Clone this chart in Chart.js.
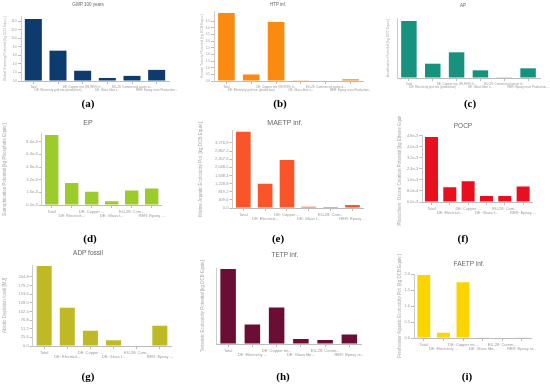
<!DOCTYPE html>
<html>
<head>
<meta charset="utf-8">
<script src="https://cdn.jsdelivr.net/npm/chart.js@4/dist/chart.umd.min.js"></script>
<style>
body { margin: 0; background: #fff; width: 550px; height: 387px; position: relative; overflow: hidden; font-family: "Liberation Sans", Arial, sans-serif; }
.pane { position: absolute; }
.ttl { position: absolute; color: #666; transform: translateX(-50%); white-space: nowrap; z-index: 2; }
.lbl { position: absolute; font-family: "Liberation Serif", "Times New Roman", serif; font-weight: bold; font-size: 11px; line-height: 11px; transform: translateX(-50%); }
</style>
</head>
<body>
<script>
// --- Categorías (etiquetas del eje x) ---
const catsTop = ['Total', 'DE: Electricity grid mix (production)', 'DE: Copper mix (99,999% fr...', 'DE: Glass fibre s...', 'EU-28: Commercial waste d...', 'RER: Epoxy resin Production...'];
const catsShort = ['Total', 'DE: Electricit...', 'DE: Copper ...', 'DE: Glass f...', 'EU-28: Com...', 'RER: Epoxy ...'];
const catsMid = ['Total', 'DE: Electricity ...', 'DE: Copper mi...', 'DE: Glass fibr...', 'EU-28: Comm...', 'RER: Epoxy re...'];

// --- Valores por categoría de impacto ---
const gwp = [14.5, 7.1, 2.4, 0.7, 1.2, 2.6];
const htp = [5.1, 0.48, 4.42, 0.05, 0.0, 0.13];
const ap = [0.057, 0.0143, 0.0257, 0.0077, 0.0007, 0.0097];
const ep = [8.85e-3, 2.79e-3, 1.69e-3, 0.47e-3, 1.82e-3, 2.07e-3];
const maetp = [3845, 1220, 2424, 67, 5, 150];
const pocp = [4.71e-3, 1.07e-3, 1.51e-3, 0.44e-3, 0.44e-3, 1.12e-3];
const adpFossil = [237, 113.7, 45.5, 16.8, 0, 60.3];
const tetp = [0.0375, 0.0098, 0.0182, 0.0025, 0.002, 0.0047];
const faetp = [1.97, 0.165, 1.74, 0.02, 0, 0.02];

// --- Formato de los ticks ---
const fix1 = v => v.toFixed(1);
const expE3 = v => (v * 1000).toFixed(1) + 'e-3';
const expPocp = v => (v > 0 && v < 1e-3) ? (v * 1e4).toFixed(1) + 'e-4' : (v * 1e3).toFixed(1) + 'e-3';
const miles = v => v.toLocaleString('en-US', { minimumFractionDigits: 1, maximumFractionDigits: 1 });

// columnas y filas del mosaico
const cols = [[0, 185], [185, 370], [370, 550]];
const rows = [[0, 100], [116, 232], [248, 372]];

const paneles = [
  { id: 'a', col: 0, row: 0, cats: catsTop, vals: gwp, color: '#0e3b6e', title: 'GWP 100 years', tx: 88, ty: 5.3, tfs: 4.5,
    yTitle: 'Global Warming Potential [kg CO2 Equiv.]', ytx: 5, l: 21, r: 169, t: 16.9, b: 81, max: 15, step: 2, fmt: fix1, fs: 3, yfs: 3.5, bp: 0.69, lx: 88, ly: 98 },
  { id: 'b', col: 1, row: 0, cats: catsTop, vals: htp, color: '#fb8a10', title: 'HTP inf.', tx: 278, ty: 5.7, tfs: 4.5,
    yTitle: 'Human Toxicity Potential [kg DCB Equiv.]', ytx: 202, l: 214, r: 363, t: 11.7, b: 81, max: 5.2, step: 0.5, fmt: fix1, fs: 3, yfs: 3.5, bp: 0.67, lx: 280, ly: 98 },
  { id: 'c', col: 2, row: 0, cats: catsTop, vals: ap, color: '#17927e', title: 'AP', tx: 463, ty: 6.7, tfs: 4.5,
    yTitle: 'Acidification Potential [kg SO2 Equiv.]', ytx: 388, l: 397, r: 540, t: 18, b: 78, max: 0.06, step: null, fmt: null, fs: 3, yfs: 3.5, bp: 0.65, lx: 470, ly: 98 },
  { id: 'd', col: 0, row: 1, cats: catsShort, vals: ep, color: '#9ccc2c', title: 'EP', tx: 88, ty: 122.7, tfs: 7,
    yTitle: 'Eutrophication Potential [kg Phosphate Equiv.]', ytx: 5, l: 41.7, r: 161.7, t: 133.8, b: 205, max: 9e-3, step: 1.6e-3, fmt: expE3, fs: 4, yfs: 4.5, bp: 0.67, lx: 90, ly: 233 },
  { id: 'e', col: 1, row: 1, cats: catsShort, vals: maetp, color: '#fa5528', title: 'MAETP inf.', tx: 285, ty: 122.7, tfs: 7,
    yTitle: 'Marine Aquatic Ecotoxicity Pot. [kg DCB Equiv.]', ytx: 201, l: 232.4, r: 363.4, t: 130.6, b: 208, max: 3900, step: 409.6, fmt: miles, fs: 4, yfs: 4.5, bp: 0.67, lx: 278, ly: 233 },
  { id: 'f', col: 2, row: 1, cats: catsShort, vals: pocp, color: '#e8101e', title: 'POCP', tx: 463, ty: 126.7, tfs: 6.5,
    yTitle: 'Photochem. Ozone Creation Potential [kg Ethene Equiv.]', ytx: 400, l: 422.3, r: 532.3, t: 135.8, b: 202, max: 4.8e-3, step: 0.8e-3, fmt: expPocp, fs: 4, yfs: 4.5, bp: 0.71, lx: 463, ly: 233 },
  { id: 'g', col: 0, row: 2, cats: catsShort, vals: adpFossil, color: '#c0b926', title: 'ADP fossil', tx: 88, ty: 253.3, tfs: 6.5,
    yTitle: 'Abiotic Depletion fossil [MJ]', ytx: 5, l: 32.6, r: 171.4, t: 265, b: 346, max: 240, step: 25.6, fmt: fix1, fs: 4, yfs: 4.5, bp: 0.65, lx: 88, ly: 371 },
  { id: 'h', col: 1, row: 2, cats: catsMid, vals: tetp, color: '#6a0e35', title: 'TETP inf.', tx: 285, ty: 255, tfs: 6.5,
    yTitle: 'Terrestric Ecotoxicity Potential [kg DCB Equiv.]', ytx: 203, l: 216, r: 361.5, t: 268, b: 344, max: 0.038, step: null, fmt: null, fs: 4, yfs: 4.5, bp: 0.64, lx: 283, ly: 371 },
  { id: 'i', col: 2, row: 2, cats: catsMid, vals: faetp, color: '#fbd500', title: 'FAETP inf.', tx: 469, ty: 264, tfs: 6.5,
    yTitle: 'Freshwater Aquatic Ecotoxicity Pot. [kg DCB Equiv.]', ytx: 400, l: 414, r: 531.6, t: 274, b: 338, max: 2.0, step: 0.5, fmt: fix1, fs: 4, yfs: 4.5, bp: 0.66, lx: 467, ly: 371 }
];

function crearPanel(p) {
  const [x0, x1] = cols[p.col];
  const [y0, y1] = rows[p.row];
  const W = p.l - x0, H = y1 - p.b;

  const div = document.createElement('div');
  div.className = 'pane';
  div.style.left = x0 + 'px';
  div.style.top = y0 + 'px';
  const cv = document.createElement('canvas');
  cv.width = x1 - x0;
  cv.height = y1 - y0;
  cv.style.width = (x1 - x0) + 'px';
  cv.style.height = (y1 - y0) + 'px';
  div.appendChild(cv);
  document.body.appendChild(div);

  // título del panel
  const t = document.createElement('div');
  t.className = 'ttl';
  t.textContent = p.title;
  t.style.left = p.tx + 'px';
  t.style.top = (p.ty - p.tfs / 2) + 'px';
  t.style.fontSize = p.tfs + 'px';
  t.style.lineHeight = p.tfs + 'px';
  document.body.appendChild(t);

  // etiqueta (a), (b)...
  const l = document.createElement('div');
  l.className = 'lbl';
  l.textContent = '(' + p.id + ')';
  l.style.left = p.lx + 'px';
  l.style.top = p.ly + 'px';
  document.body.appendChild(l);

  const conTicks = p.step !== null;
  const lineH = p.yfs * 1.2;

  new Chart(cv.getContext('2d'), {
    type: 'bar',
    data: {
      labels: p.cats.map((c, i) => i % 2 ? ['', c] : [c]),
      datasets: [{ data: p.vals, backgroundColor: p.color, barPercentage: p.bp, categoryPercentage: 1 }]
    },
    options: {
      responsive: false,
      animation: false,
      layout: { padding: { top: p.t - y0, right: x1 - p.r, left: 0, bottom: 0 } },
      plugins: { legend: { display: false }, tooltip: { enabled: false } },
      scales: {
        x: {
          grid: { offset: false, drawOnChartArea: false, tickLength: 3, color: '#bbb' },
          border: { color: '#bbb' },
          ticks: { font: { size: p.fs, family: 'Liberation Sans' }, color: '#999', maxRotation: 0, minRotation: 0, autoSkip: false, padding: 1 },
          afterFit(s) { s.height = H; s.paddingLeft = 0; s.paddingRight = 0; }
        },
        y: {
          min: 0, max: p.max,
          grid: { drawOnChartArea: false, drawTicks: conTicks, tickLength: 3, color: '#bbb' },
          border: { color: '#ccc' },
          ticks: conTicks
            ? { stepSize: p.step, callback: p.fmt, font: { size: p.fs, family: 'Liberation Sans' }, color: '#999', padding: 1 }
            : { display: false },
          title: { display: true, text: p.yTitle, color: '#aaa', font: { size: p.yfs, family: 'Liberation Sans' }, padding: { top: p.ytx - x0 - lineH / 2, bottom: 0 } },
          afterBuildTicks(s) {
            if (!conTicks) return;
            s.ticks = s.ticks.filter(tk => Math.abs(tk.value / p.step - Math.round(tk.value / p.step)) < 1e-6);
          },
          afterFit(s) { s.width = W; s.paddingTop = 0; s.paddingBottom = 0; }
        }
      }
    }
  });
}

paneles.forEach(crearPanel);
</script>
</body>
</html>
